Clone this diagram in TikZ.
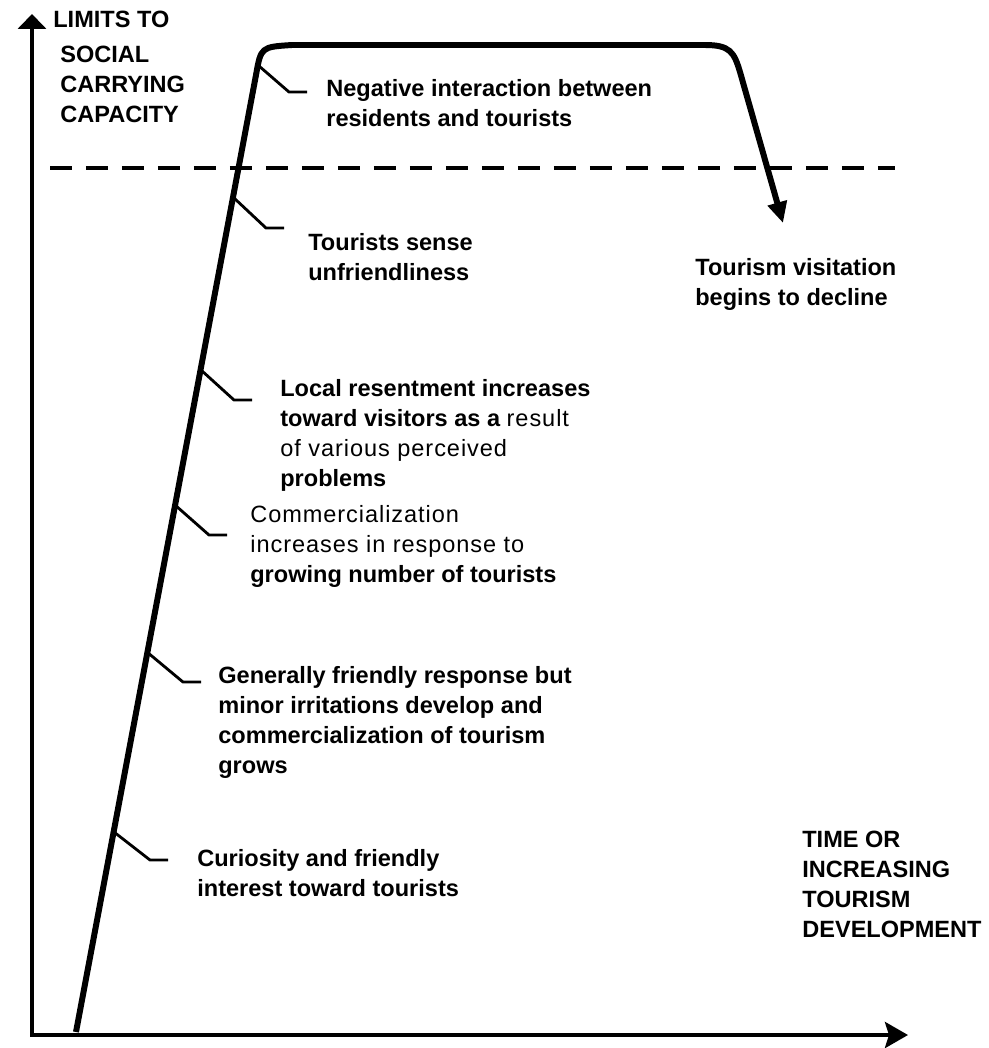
\documentclass[tikz,border=0pt]{standalone}
\usepackage{fontspec}
\setmainfont{Liberation Sans}
\newfontfamily\lightfont[LetterSpace=4]{Liberation Sans}
\usetikzlibrary{arrows.meta}

\begin{document}
\begin{tikzpicture}[x=0.02cm,y=-0.02cm,
 lbl/.style={font=\fontsize{13.4}{17}\selectfont\bfseries,align=left,anchor=north west,inner sep=0pt},
 curve/.style={line width=3.4pt,line join=round},
 leader/.style={line width=1.6pt},
 axis/.style={line width=2.4pt}]
\useasboundingbox(0,0)rectangle(988,1048);
\coordinate(ytip)at(32,14);\coordinate(o)at(32,1035);\coordinate(xtip)at(908,1035);
\draw[axis,{Triangle[length=0.3cm,width=0.56cm]}-{Stealth[length=0.46cm,width=0.52cm,inset=0.08cm]}](ytip)--(o)--(xtip);
\coordinate(d1)at(50,168);\coordinate(d2)at(895,168);
\draw[line width=2.3pt,dash pattern=on 0.44cm off 0.28cm](d1)--(d2);

% the curve
\coordinate(c0)at(76,1032);\coordinate(c1)at(256,75);\coordinate(c2)at(740,72);\coordinate(cend)at(783,223);
\draw[curve,-{Triangle[length=0.42cm,width=0.38cm]}](c0)--(c1)..controls(261,47)..(292,45)--(705,45)..controls(730,45)and(734,52)..(c2)--(cend);

% leaders
\coordinate(t1)at(259,66);\coordinate(t2)at(234,198);\coordinate(t3)at(201,370);
\coordinate(t4)at(175,505);\coordinate(t5)at(147,652);\coordinate(t6)at(114,832);
\draw[leader](t1)--++(30,26)--++(18,0);
\draw[leader](t2)--++(32,30)--++(18,0);
\draw[leader](t3)--++(33,30)--++(18,0);
\draw[leader](t4)--++(34,30)--++(18,0);
\draw[leader](t5)--++(36,30)--++(18,0);
\draw[leader](t6)--++(36,28)--++(18,0);

% labels
\node[lbl](ylab1)at(53,11){LIMITS TO};
\node[lbl](ylab2)at(60,46){SOCIAL\\CARRYING\\CAPACITY};
\node[lbl](neg)at(326,79){Negative interaction between\\residents and tourists};
\node[lbl](sense)at(308,233){Tourists sense\\unfriendliness};
\node[lbl](decl)at(695,258){Tourism visitation\\begins to decline};
\node[lbl](resent)at(280,379){Local resentment increases\\toward visitors as a {\lightfont\mdseries result}\\{\lightfont\mdseries of various perceived}\\problems};
\node[lbl](comm)at(250,505){{\lightfont\mdseries Commercialization}\\{\lightfont\mdseries increases in response to}\\growing number of tourists};
\node[lbl](friendly)at(218,666){Generally friendly response but\\minor irritations develop and\\commercialization of tourism\\grows};
\node[lbl](curious)at(197,849){Curiosity and friendly\\interest toward tourists};
\node[lbl](xlab)at(802,831){TIME OR\\INCREASING\\TOURISM\\DEVELOPMENT};
\end{tikzpicture}
\end{document}
